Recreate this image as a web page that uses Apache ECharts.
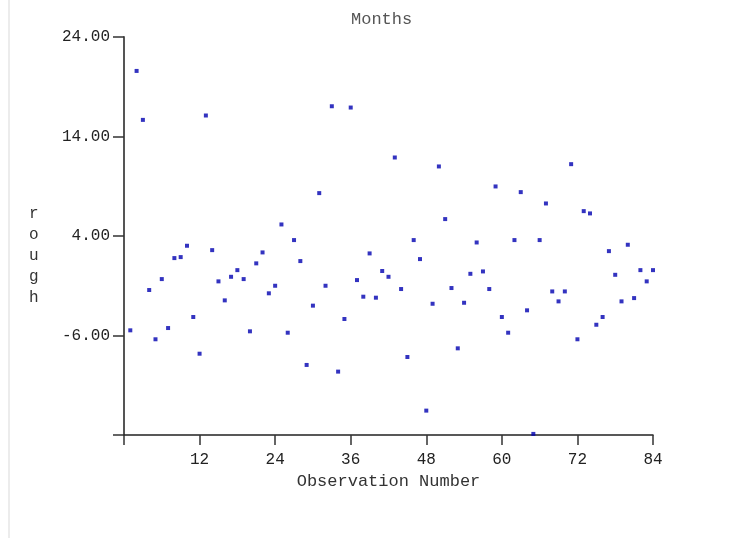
<!DOCTYPE html>
<html>
<head>
<meta charset="utf-8">
<script src="https://cdn.jsdelivr.net/npm/echarts@6/dist/echarts.min.js"></script>
<style>
  html, body { margin: 0; padding: 0; background: #fff; }
  #chart { width: 752px; height: 538px; }
</style>
</head>
<body>
<div id="chart"></div>
<script>
// Monthly "rough" component, one value per observation (1..84)
const roughValues = [
  -5.48, 20.59, 15.67, -1.43, -6.38, -0.33, -5.25, 1.78, 1.88, 3.02,
  -4.14, -7.83, 16.11, 2.58, -0.56, -2.47, -0.10, 0.57, -0.33, -5.58,
  1.25, 2.35, -1.76, -1.00, 5.16, -5.72, 3.59, 1.48, -8.96, -3.00,
  8.31, -1.00, 17.04, -9.63, -4.34, 16.91, -0.43, -2.10, 2.25, -2.20,
  0.48, -0.10, 11.89, -1.33, -8.16, 3.59, 1.68, -13.55, -2.81, 10.99,
  5.70, -1.23, -7.29, -2.71, 0.20, 3.35, 0.44, -1.33, 8.98, -4.14,
  -5.72, 3.59, 8.41, -3.47, -15.89, 3.59, 7.27, -1.57, -2.57, -1.57,
  11.22, -6.38, 6.50, 6.27, -4.92, -4.14, 2.48, 0.10, -2.57, 3.12,
  -2.24, 0.57, -0.56, 0.57
];
const xTicks = [0, 12, 24, 36, 48, 60, 72, 84];
const yTicks = [-16, -6, 4, 14, 24];
const yTitle = 'rough';

const FONT = 'Liberation Mono';
const points = roughValues.map((v, i) => [i + 1, v]);

const chart = echarts.init(document.getElementById('chart'));
chart.setOption({
  animation: false,
  backgroundColor: '#ffffff',
  title: {
    text: 'Months',
    left: 346,
    top: 6,
    textStyle: { fontFamily: FONT, fontSize: 17, fontWeight: 'normal', color: '#555555' }
  },
  graphic: [
    {
      // thin frame edge on the left
      type: 'line',
      shape: { x1: 9, y1: 0, x2: 9, y2: 538 },
      style: { stroke: '#ececec', lineWidth: 2 }
    },
    {
      // vertical, letter-stacked y-axis title
      type: 'text',
      left: 29,
      top: 203,
      style: {
        text: yTitle.split('').join('\n'),
        font: '16px "' + FONT + '"',
        fill: '#333333',
        lineHeight: 21,
        align: 'center'
      }
    }
  ],
  grid: { left: 124, right: 99, top: 37, bottom: 103, containLabel: false },
  xAxis: {
    type: 'value',
    min: xTicks[0],
    max: xTicks[xTicks.length - 1],
    interval: 12,
    name: 'Observation Number',
    nameLocation: 'middle',
    nameGap: 35,
    nameTextStyle: { fontFamily: FONT, fontSize: 17, color: '#333333' },
    splitLine: { show: false },
    axisLine: { onZero: false, lineStyle: { color: '#222222', width: 1.5 } },
    axisTick: { inside: false, length: 10, lineStyle: { color: '#333333', width: 1.5 } },
    axisLabel: {
      margin: 17,
      fontFamily: FONT, fontSize: 16, color: '#222222',
      formatter: v => (v === 0 ? '' : String(v))
    }
  },
  yAxis: {
    type: 'value',
    min: yTicks[0],
    max: yTicks[yTicks.length - 1],
    interval: 10,
    splitLine: { show: false },
    axisLine: { onZero: false, lineStyle: { color: '#555555', width: 2 } },
    axisTick: { inside: false, length: 11, lineStyle: { color: '#333333', width: 1.5 } },
    axisLabel: {
      margin: 14,
      fontFamily: FONT, fontSize: 16, color: '#222222',
      formatter: v => (v === yTicks[0] ? '' : v.toFixed(2))
    }
  },
  series: [{
    type: 'scatter',
    symbol: 'rect',
    symbolSize: 4,
    itemStyle: { color: '#0000b0' },
    data: points
  }]
});
</script>
</body>
</html>
